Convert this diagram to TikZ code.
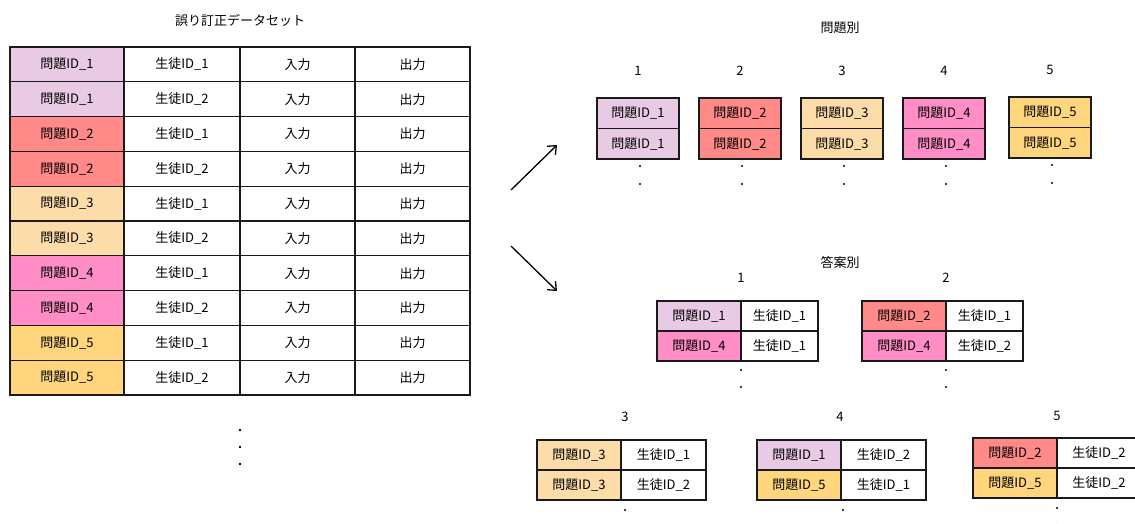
\documentclass[tikz,border=0pt]{standalone}
\usepackage{fontspec}
\setmainfont{Noto Sans CJK JP}
\usetikzlibrary{arrows.meta}
\definecolor{cA}{HTML}{E8CAE4}
\definecolor{cB}{HTML}{FF8A88}
\definecolor{cC}{HTML}{FCDDAA}
\definecolor{cD}{HTML}{FF8EC6}
\definecolor{cE}{HTML}{FFD57E}
\definecolor{edge}{HTML}{1A1A1A}
\tikzset{
  cellbox/.style={draw=edge, line width=1.1pt, inner sep=0pt, anchor=center, font=\fontsize{13}{15}\selectfont},
  lbl/.style={inner sep=0pt, font=\fontsize{13}{15}\selectfont},
  flow/.style={line width=1.3pt, -{Straight Barb[length=7pt,width=12pt]}}
}
\begin{document}
\begin{tikzpicture}[x=1pt,y=-1pt]
\useasboundingbox (0,0) rectangle (1135,524);
% ---------- left table ----------
\node[lbl] (title) at (240,20) {誤り訂正データセット};
\foreach \r/\col/\q/\s in {0/cA/1/1,1/cA/1/2,2/cB/2/1,3/cB/2/2,4/cC/3/1,5/cC/3/2,6/cD/4/1,7/cD/4/2,8/cE/5/1,9/cE/5/2}{
  \pgfmathsetmacro\yc{47+34.8*(\r+0.5)}
  \node[cellbox, fill=\col, minimum width=114pt, minimum height=34.8pt] (L\r a) at (67,\yc) {問題ID\_\q};
  \node[cellbox, fill=white, minimum width=116pt, minimum height=34.8pt] (L\r b) at (182,\yc) {生徒ID\_\s};
  \node[cellbox, fill=white, minimum width=115pt, minimum height=34.8pt] (L\r c) at (297.5,\yc) {入力};
  \node[cellbox, fill=white, minimum width=115pt, minimum height=34.8pt] (L\r d) at (412.5,\yc) {出力};
}
\foreach \y in {430,447,464}{\fill (240,\y) circle (1.3pt);}
% ---------- arrows ----------
\coordinate (a1s) at (511,190);
\coordinate (a1e) at (557,145);
\coordinate (a2s) at (511,246);
\coordinate (a2e) at (557,291);
\draw[flow] (a1s) -- (a1e);
\draw[flow] (a2s) -- (a2e);
% ---------- by problem ----------
\node[lbl] (t2) at (840,28) {問題別};
\foreach \i/\x/\col/\yt in {1/638/cA/98,2/740/cB/98,3/842/cC/98,4/944/cD/98,5/1050/cE/97}{
  \node[lbl] (pn\i) at (\x,\yt-27) {\i};
  \node[cellbox, fill=\col, minimum width=82pt, minimum height=30.5pt] (P\i a) at (\x,\yt+15.25) {問題ID\_\i};
  \node[cellbox, fill=\col, minimum width=82pt, minimum height=30.5pt] (P\i b) at (\x,\yt+45.75) {問題ID\_\i};
  \fill (\x+2,\yt+68) circle (1.2pt);
  \fill (\x+2,\yt+86) circle (1.2pt);
}
% ---------- by answer ----------
\node[lbl] (t3) at (840,262) {答案別};
\foreach \g/\xl/\yt/\ca/\qa/\sa/\cb/\qb/\sb/\nx/\ny/\rw in {
  1/657/301/cA/1/1/cD/4/1/741/278/77,
  2/862/301/cB/2/1/cD/4/2/946/278/77,
  3/537/440/cC/3/1/cC/3/2/625/417/85,
  4/757/440/cA/1/2/cE/5/1/840/417/85,
  5/973/438/cB/2/2/cE/5/2/1057/416/84}{
  \node[lbl] (an\g) at (\nx,\ny) {\g};
  \node[cellbox, fill=\ca, minimum width=84pt, minimum height=30pt] (A\g a) at (\xl+42,\yt+15) {問題ID\_\qa};
  \node[cellbox, fill=white, minimum width=\rw pt, minimum height=30pt] (A\g b) at (\xl+84+\rw/2,\yt+15) {生徒ID\_\sa};
  \node[cellbox, fill=\cb, minimum width=84pt, minimum height=30pt] (A\g c) at (\xl+42,\yt+45) {問題ID\_\qb};
  \node[cellbox, fill=white, minimum width=\rw pt, minimum height=30pt] (A\g d) at (\xl+84+\rw/2,\yt+45) {生徒ID\_\sb};
}
\foreach \x in {741,946}{\fill (\x,370) circle (1.2pt); \fill (\x,387) circle (1.2pt);}
\fill (625,510) circle (1.2pt);
\fill (843,510) circle (1.2pt);
\fill (1057,508) circle (1.2pt);
\fill (1057,525) circle (1.2pt);
\end{tikzpicture}
\end{document}
